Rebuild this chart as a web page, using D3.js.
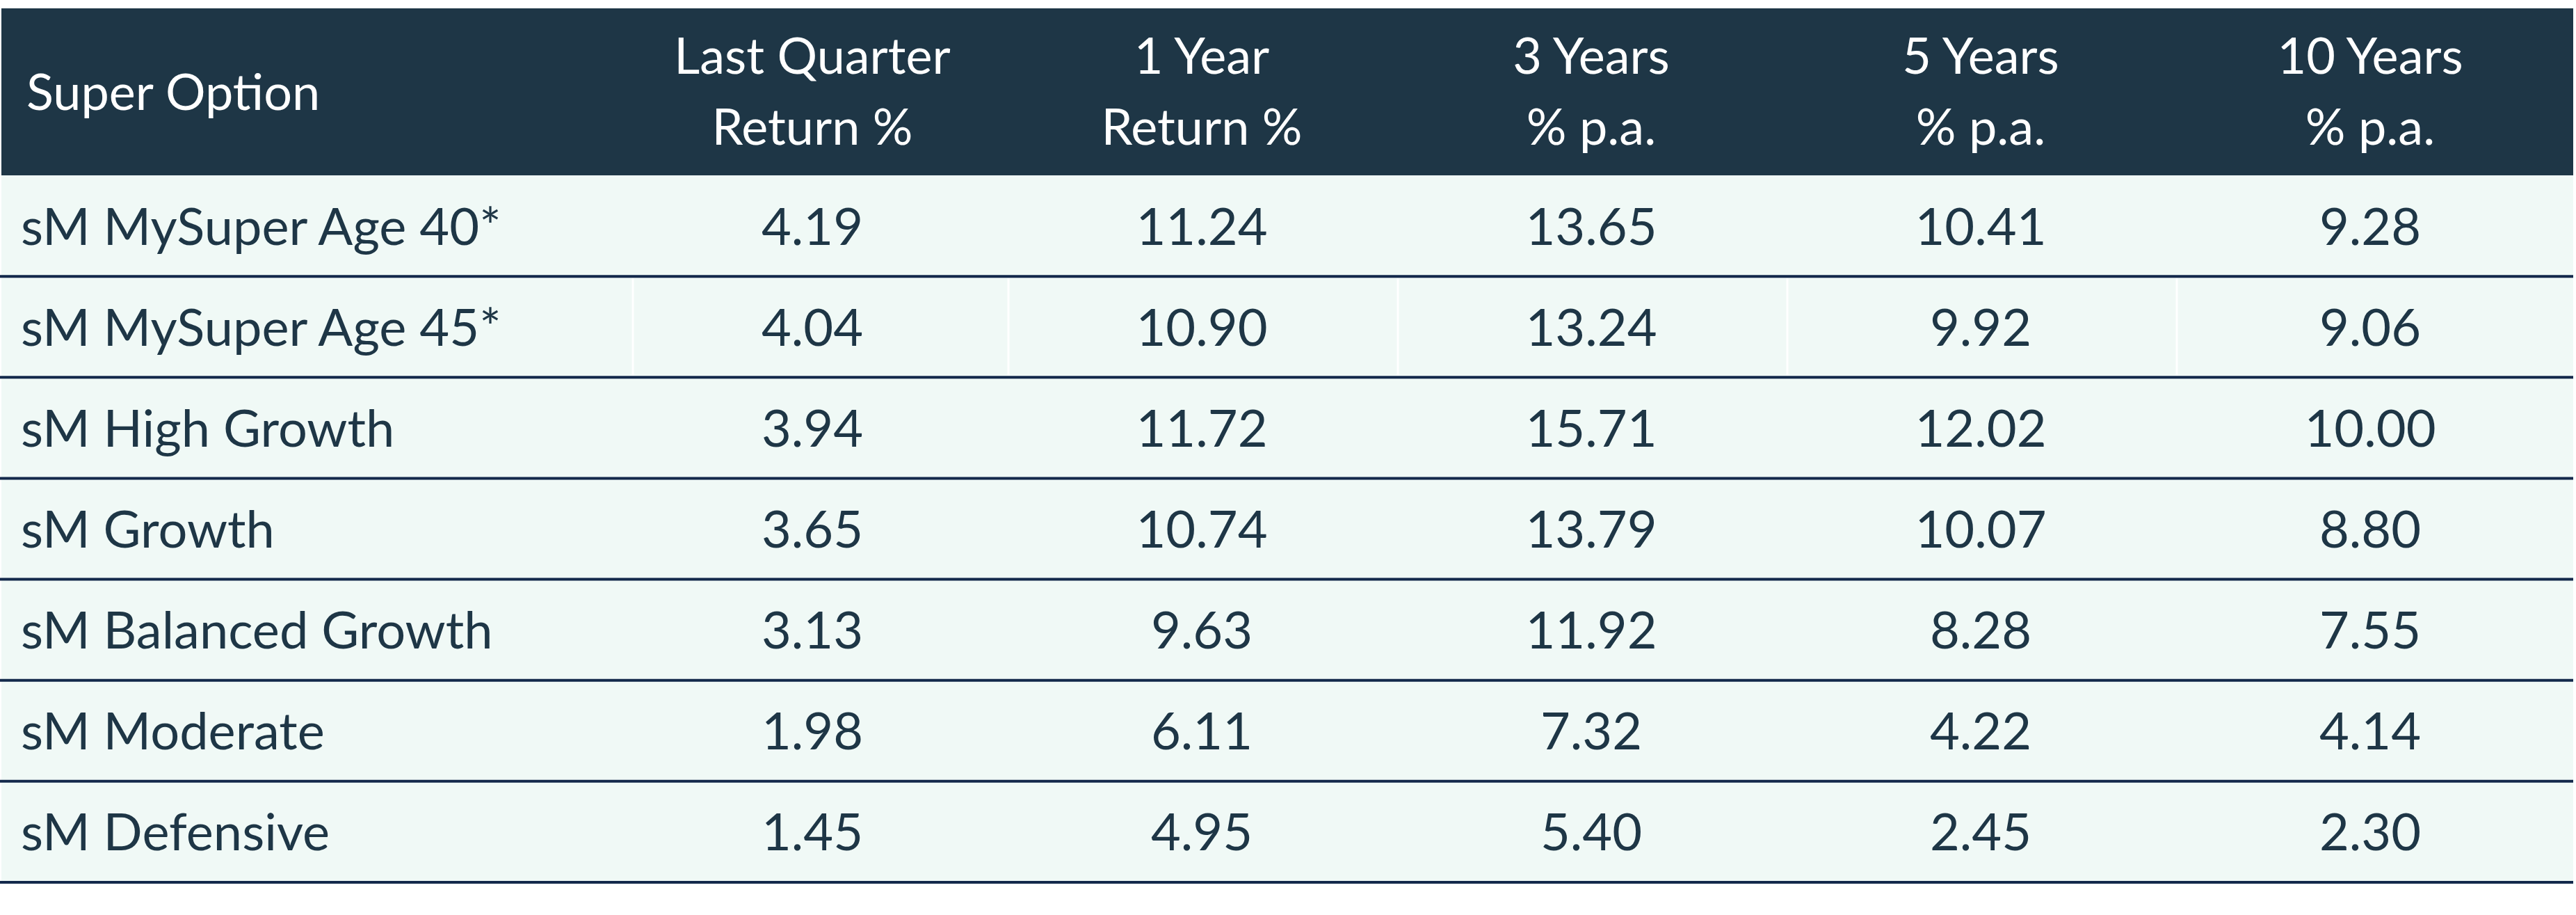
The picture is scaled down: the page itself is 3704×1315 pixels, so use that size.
<!DOCTYPE html>
<html><head><meta charset="utf-8">
<script src="https://cdn.jsdelivr.net/npm/d3@7"></script>
<style>body{margin:0;background:#fff}svg{display:block}</style>
</head><body>
<script>
var options = ["sM MySuper Age 40*", "sM MySuper Age 45*", "sM High Growth", "sM Growth", "sM Balanced Growth", "sM Moderate", "sM Defensive"];
var headers = [["Last Quarter", "Return %"], ["1 Year", "Return %"], ["3 Years", "% p.a."], ["5 Years", "% p.a."], ["10 Years", "% p.a."]];
var lastQuarter = ["4.19", "4.04", "3.94", "3.65", "3.13", "1.98", "1.45"];
var oneYear = ["11.24", "10.90", "11.72", "10.74", "9.63", "6.11", "4.95"];
var threeYears = ["13.65", "13.24", "15.71", "13.79", "11.92", "7.32", "5.40"];
var fiveYears = ["10.41", "9.92", "12.02", "10.07", "8.28", "4.22", "2.45"];
var tenYears = ["9.28", "9.06", "10.00", "8.80", "7.55", "4.14", "2.30"];
var series = [lastQuarter, oneYear, threeYears, fiveYears, tenYears];

var W = 3704, H = 1315;
var dark = "#1e3646", line = "#13294b", font = "Lato, 'Open Sans', sans-serif";
var svg = d3.select("body").append("svg").attr("width", W).attr("height", H);

var x = d3.scaleBand().domain(d3.range(5)).range([900, 3700]);
var y = d3.scaleBand().domain(options).range([252, 1268]);

// header
svg.append("rect").attr("x", 2).attr("y", 12).attr("width", 3698).attr("height", 240).attr("fill", dark);
svg.append("text").attr("x", 38).attr("y", 158).attr("fill", "#fff")
  .attr("font-family", font).attr("font-size", 72).text("Super Option");
headers.forEach(function(h, i) {
  var t = svg.append("text").attr("x", x(i) + x.bandwidth() / 2 - 12).attr("text-anchor", "middle")
    .attr("fill", "#fff").attr("font-family", font).attr("font-size", 72);
  t.append("tspan").attr("x", x(i) + x.bandwidth() / 2 - 12).attr("y", 106).text(h[0]);
  t.append("tspan").attr("x", x(i) + x.bandwidth() / 2 - 12).attr("y", 208).text(h[1]);
});

// body
var rows = svg.selectAll("g.row").data(options).join("g").attr("class", "row")
  .attr("transform", function(d) { return "translate(0," + y(d) + ")"; });
rows.append("rect").attr("x", 2).attr("width", 3698).attr("height", y.bandwidth()).attr("fill", "#f0f9f6");
rows.append("text").attr("x", 30).attr("y", y.bandwidth() / 2 + 27).attr("fill", dark)
  .attr("font-family", font).attr("font-size", 74).text(function(d) { return d; });
rows.each(function(d, r) {
  var g = d3.select(this);
  series.forEach(function(s, i) {
    g.append("text").attr("x", x(i) + x.bandwidth() / 2 - 12).attr("y", y.bandwidth() / 2 + 27)
      .attr("text-anchor", "middle").attr("fill", dark).attr("font-family", font)
      .attr("font-size", 74).text(s[r]);
  });
});
// faint column separators in second row
[910].concat(d3.range(1, 5).map(function(i) { return x(i) - 10; })).forEach(function(cx) {
  svg.append("line").attr("x1", cx).attr("x2", cx).attr("y1", y(options[1]) + 3).attr("y2", y(options[2]) - 3)
    .attr("stroke", "#fff").attr("stroke-width", 3);
});
// row separators
svg.selectAll("line.sep").data(options).join("line").attr("class", "sep")
  .attr("x1", 0).attr("x2", 3700)
  .attr("y1", function(d) { return y(d) + y.bandwidth(); })
  .attr("y2", function(d) { return y(d) + y.bandwidth(); })
  .attr("stroke", line).attr("stroke-width", 4);
</script>
</body></html>
